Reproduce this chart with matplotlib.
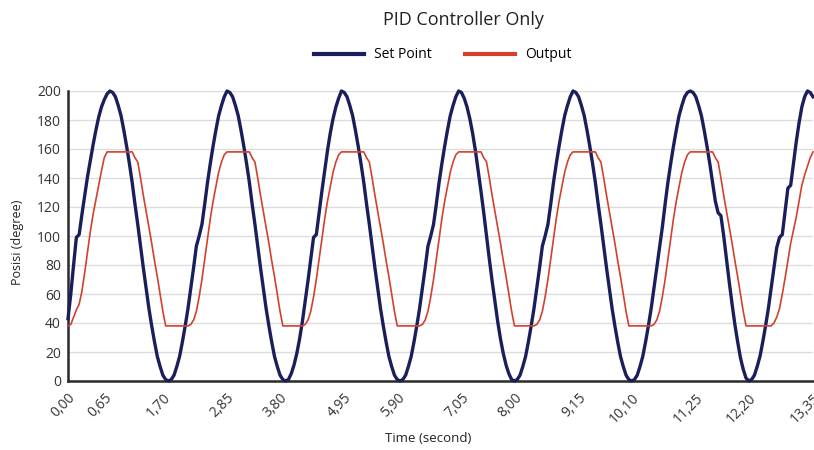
import numpy as np
import matplotlib
matplotlib.use('Agg')
import matplotlib.pyplot as plt

sample_dt = 0.05

set_point = [
  43, 60, 80, 99, 101, 115, 128, 141, 152, 163, 173, 182, 189, 194, 198, 200,
  199, 196, 190, 183, 173, 162, 150, 137, 122, 108, 93, 78, 64, 50, 38, 27, 17, 10, 4, 1, 0,
  1, 4, 10, 17, 27, 38, 50, 64, 78, 93, 100, 108, 122, 137, 150, 162, 173, 183, 190, 196, 200,
  199, 196, 190, 183, 173, 162, 150, 137, 122, 108, 93, 78, 64, 50, 38, 27, 17, 10, 4, 1, 0,
  1, 5, 11, 19, 29, 41, 55, 69, 84, 99, 101, 116, 131, 145, 159, 171, 181, 189, 195, 200,
  199, 196, 190, 183, 173, 162, 150, 137, 122, 108, 93, 78, 64, 50, 38, 27, 17, 10, 4, 1, 0,
  1, 4, 10, 17, 27, 38, 50, 64, 78, 93, 100, 108, 122, 137, 150, 162, 173, 183, 190, 196, 200,
  199, 195, 189, 181, 171, 159, 145, 131, 116, 100, 84, 69, 55, 41, 29, 19, 11, 5, 1, 0,
  1, 4, 10, 17, 27, 38, 50, 64, 78, 93, 100, 108, 122, 137, 150, 162, 173, 183, 190, 196, 200,
  199, 196, 190, 183, 173, 162, 150, 137, 122, 108, 93, 78, 64, 50, 38, 27, 17, 10, 4, 1, 0,
  1, 4, 10, 17, 27, 38, 50, 64, 78, 92, 106, 122, 137, 150, 162, 173, 183, 190, 196, 199, 200,
  199, 196, 190, 183, 173, 162, 150, 137, 124, 116, 114, 100, 84, 68, 53, 39, 27, 16, 8, 2, 0,
  1, 4, 10, 17, 27, 38, 50, 64, 78, 92, 99, 101, 117, 133, 135, 150, 165, 178, 189, 196, 200,
  199, 196,
]

output = [
  38, 39, 44, 49, 53, 62, 75, 89, 103, 115, 125, 135, 145, 154, 158, 158,
  158, 158, 158, 158, 158, 158, 158, 158, 154, 151, 140, 128, 117, 106, 95, 83, 72, 60, 48, 38,
  38, 38, 38, 38, 38, 38, 38, 38,
  39, 42, 48, 58, 70, 84, 98, 112, 124, 134, 144, 151, 156,
  158, 158, 158, 158, 158, 158, 158, 158, 158, 154, 151, 140, 128, 117, 106, 95, 83, 72, 60, 48, 38,
  38, 38, 38, 38, 38, 38, 38,
  39, 42, 48, 58, 70, 84, 98, 112, 124, 134, 144, 151, 156,
  158, 158, 158, 158, 158, 158, 158, 158, 158, 154, 151, 140, 128, 117, 106, 95, 83, 72, 60, 48, 38,
  38, 38, 38, 38, 38, 38, 38, 38,
  39, 42, 48, 58, 70, 84, 98, 112, 124, 134, 144, 151, 156,
  158, 158, 158, 158, 158, 158, 158, 158, 158, 154, 151, 140, 128, 117, 106, 95, 83, 72, 60, 48, 38,
  38, 38, 38, 38, 38, 38, 38,
  39, 42, 48, 58, 70, 84, 98, 112, 124, 134, 144, 151, 156,
  158, 158, 158, 158, 158, 158, 158, 158, 158, 154, 151, 140, 128, 117, 106, 95, 83, 72, 60, 48, 38,
  38, 38, 38, 38, 38, 38, 38, 38,
  39, 42, 48, 58, 70, 84, 98, 112, 124, 134, 144, 151, 156,
  158, 158, 158, 158, 158, 158, 158, 158, 158, 154, 151, 140, 128, 117, 106, 95, 83, 72, 60, 48, 38,
  38, 38, 38, 38, 38, 38, 38, 38, 38,
  40, 44, 50, 60, 71, 83, 95, 104, 113, 124, 135, 142, 148, 154, 158,
]

tick_times = [0.00, 0.65, 1.70, 2.85, 3.80, 4.95, 5.90, 7.05, 8.00, 9.15, 10.10, 11.25, 12.20, 13.35]
tick_labels = ['0,00', '0,65', '1,70', '2,85', '3,80', '4,95', '5,90', '7,05', '8,00', '9,15', '10,10', '11,25', '12,20', '13,35']

BLUE = '#1a1f5c'
RED = '#d4402e'

def main():
  plt.rcParams['font.family'] = ['Open Sans', 'DejaVu Sans']
  time = np.arange(len(set_point)) * sample_dt

  fig = plt.figure(figsize=(8.14, 4.5), dpi=100)
  ax = fig.add_axes([68/814, 1 - 381/450, 745/814, 290/450])

  ax.plot(time, set_point, color=BLUE, lw=2.4, label='Set Point', clip_on=False, zorder=3)
  ax.plot(time, output, color=RED, lw=1.2, label='Output', clip_on=False, zorder=4)

  ax.set_xlim(0, 13.35)
  ax.set_ylim(0, 200)
  ax.set_yticks(range(0, 201, 20))
  ax.set_xticks(tick_times)
  ax.set_xticklabels(tick_labels, rotation=45, ha='right', va='top', rotation_mode='anchor')
  ax.tick_params(axis='both', length=0, labelsize=10, colors='#333333')
  ax.tick_params(axis='y', pad=5)
  ax.tick_params(axis='x', pad=7)

  ax.grid(axis='y', color='#dcdcdc', lw=1.0)
  ax.set_axisbelow(True)
  for s in ['top', 'right']:
    ax.spines[s].set_visible(False)
  for s in ['left', 'bottom']:
    ax.spines[s].set_color('#2b2b2b')
    ax.spines[s].set_linewidth(1.8)

  fig.text(463/814, 1 - 20/450, 'PID Controller Only', ha='center', va='center', fontsize=13, color='#222222')
  fig.text(428/814, 1 - 438/450, 'Time (second)', ha='center', va='center', fontsize=9.5, color='#222222')
  fig.text(18/814, 1 - 242/450, 'Posisi (degree)', ha='center', va='center', rotation=90, fontsize=9, color='#222222')

  handles = [plt.Line2D([], [], color=BLUE, lw=3), plt.Line2D([], [], color=RED, lw=3)]
  fig.legend(handles, ['Set Point', 'Output'], loc='center', bbox_to_anchor=(443/814, 1 - 55/450),
             ncol=2, frameon=False, fontsize=10, handlelength=3.6, handletextpad=0.7, columnspacing=2.4)

  fig.savefig('out.png', dpi=100)

if __name__ == "__main__":
  main()
